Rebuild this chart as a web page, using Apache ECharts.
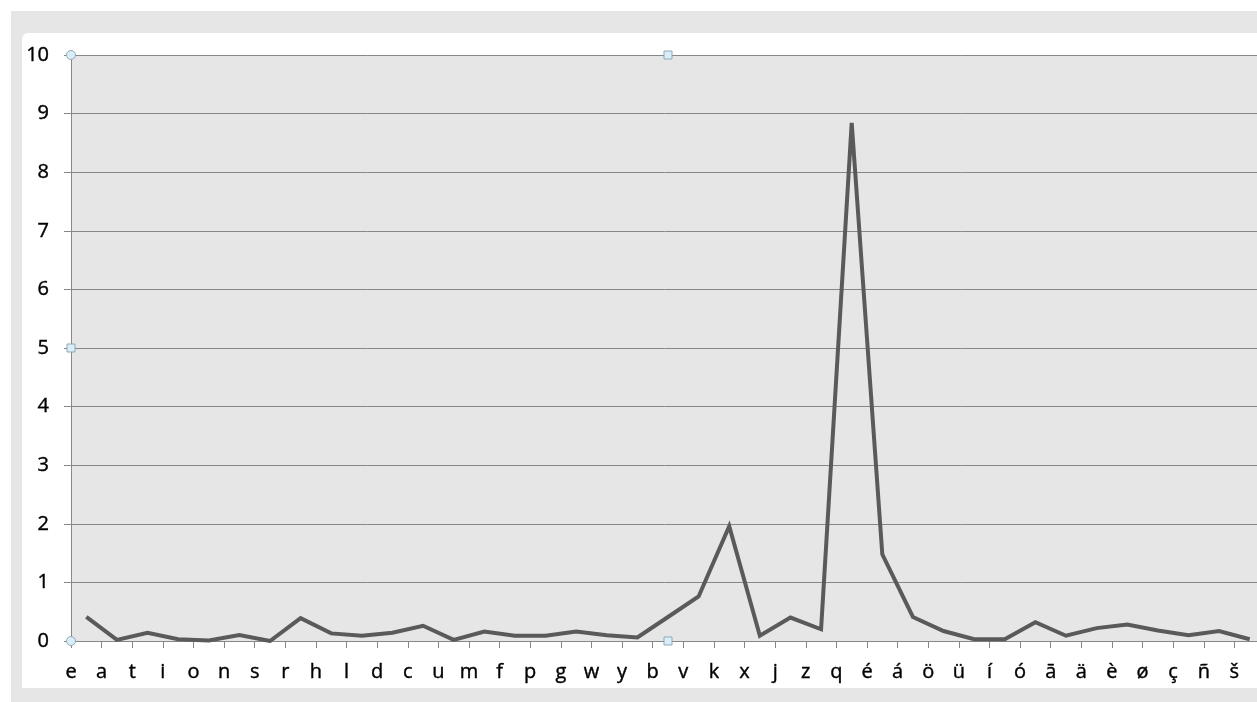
<!DOCTYPE html>
<html>
<head>
<meta charset="utf-8">
<script src="https://cdn.jsdelivr.net/npm/echarts@6/dist/echarts.min.js"></script>
<style>
  html, body { margin: 0; padding: 0; background: #ffffff; width: 1257px; height: 702px; overflow: hidden; }
  #frame { position: absolute; left: 11px; top: 11px; width: 1246px; height: 691px; background: #e6e6e6; }
  #card { position: absolute; left: 22px; top: 33px; width: 1235px; height: 655px; background: #ffffff; border-top-left-radius: 6px; }
  #chart { position: absolute; left: 0; top: 0; width: 1257px; height: 702px; }
</style>
</head>
<body>
<div id="frame"></div>
<div id="card"></div>
<div id="chart"></div>
<script>
// Letters along the category axis
const letters = ['e','a','t','i','o','n','s','r','h','l','d','c','u','m','f','p','g','w','y','b',
                 'v','k','x','j','z','q','é','á','ö','ü','í','ó','ā','ä','è','ø','ç','ñ','š'];

// Value per letter
const values = [0.41, 0.02, 0.14, 0.03, 0.01, 0.10, 0.00, 0.39, 0.13, 0.09,
                0.14, 0.26, 0.02, 0.16, 0.09, 0.09, 0.16, 0.10, 0.06, 0.41,
                0.76, 1.96, 0.09, 0.40, 0.20, 8.84, 1.48, 0.41, 0.17, 0.03,
                0.03, 0.32, 0.09, 0.22, 0.28, 0.18, 0.10, 0.17, 0.03];

// Value axis range
const yMin = 0, yMax = 10, yStep = 1;

// Plot area: runs a little past the right edge of the page
const GRID = { left: 71, top: 55, width: 1194, height: 586 };
const band = GRID.width / letters.length;

const gridColor = '#878787';
const font = '"Open Sans", Lato, sans-serif';
const labelText = { color: '#000', fontSize: 20, fontFamily: font, textBorderColor: '#000', textBorderWidth: 0.4 };

// Selection handles on the plot area frame
const handleStyle = { fill: '#d8eef8', stroke: '#8fa9b6', lineWidth: 1 };
const midX = GRID.left + GRID.width / 2, midY = GRID.top + GRID.height / 2;
const bottomY = GRID.top + GRID.height;
const handles = [
  { type: 'circle', shape: { cx: GRID.left, cy: GRID.top, r: 4.5 }, style: handleStyle, z: 100 },
  { type: 'circle', shape: { cx: GRID.left, cy: bottomY, r: 4.5 }, style: handleStyle, z: 100 },
  { type: 'rect', shape: { x: midX - 4, y: GRID.top - 4, width: 8, height: 8 }, style: handleStyle, z: 100 },
  { type: 'rect', shape: { x: midX - 4, y: bottomY - 4, width: 8, height: 8 }, style: handleStyle, z: 100 },
  { type: 'rect', shape: { x: GRID.left - 4, y: midY - 4, width: 8, height: 8 }, style: handleStyle, z: 100 }
];

const chart = echarts.init(document.getElementById('chart'), null, { renderer: 'canvas' });
chart.setOption({
  animation: false,
  backgroundColor: 'transparent',
  grid: {
    left: GRID.left, top: GRID.top, width: GRID.width, height: GRID.height,
    outerBoundsMode: 'none', containLabel: false,
    show: true, backgroundColor: '#e6e6e6', borderWidth: 0
  },
  xAxis: {
    type: 'category',
    data: letters,
    boundaryGap: true,
    axisLine: { show: true, lineStyle: { color: gridColor, width: 1 } },
    axisTick: { show: true, length: 7, interval: 0, lineStyle: { color: gridColor } },
    axisLabel: Object.assign({ interval: 0, margin: 21, padding: [0, band, 0, 0] }, labelText),
    splitLine: { show: false }
  },
  yAxis: {
    type: 'value',
    min: yMin, max: yMax, interval: yStep,
    axisLine: { show: true, lineStyle: { color: gridColor, width: 1 } },
    axisTick: { show: true, length: 7, lineStyle: { color: gridColor } },
    axisLabel: Object.assign({ margin: 22 }, labelText),
    splitLine: { show: true, lineStyle: { color: gridColor, width: 1 } }
  },
  series: [{
    type: 'line',
    data: values,
    symbol: 'none',
    lineStyle: { color: '#5a5a5a', width: 4, join: 'miter' },
    z: 5
  }],
  graphic: handles
});
</script>
</body>
</html>
